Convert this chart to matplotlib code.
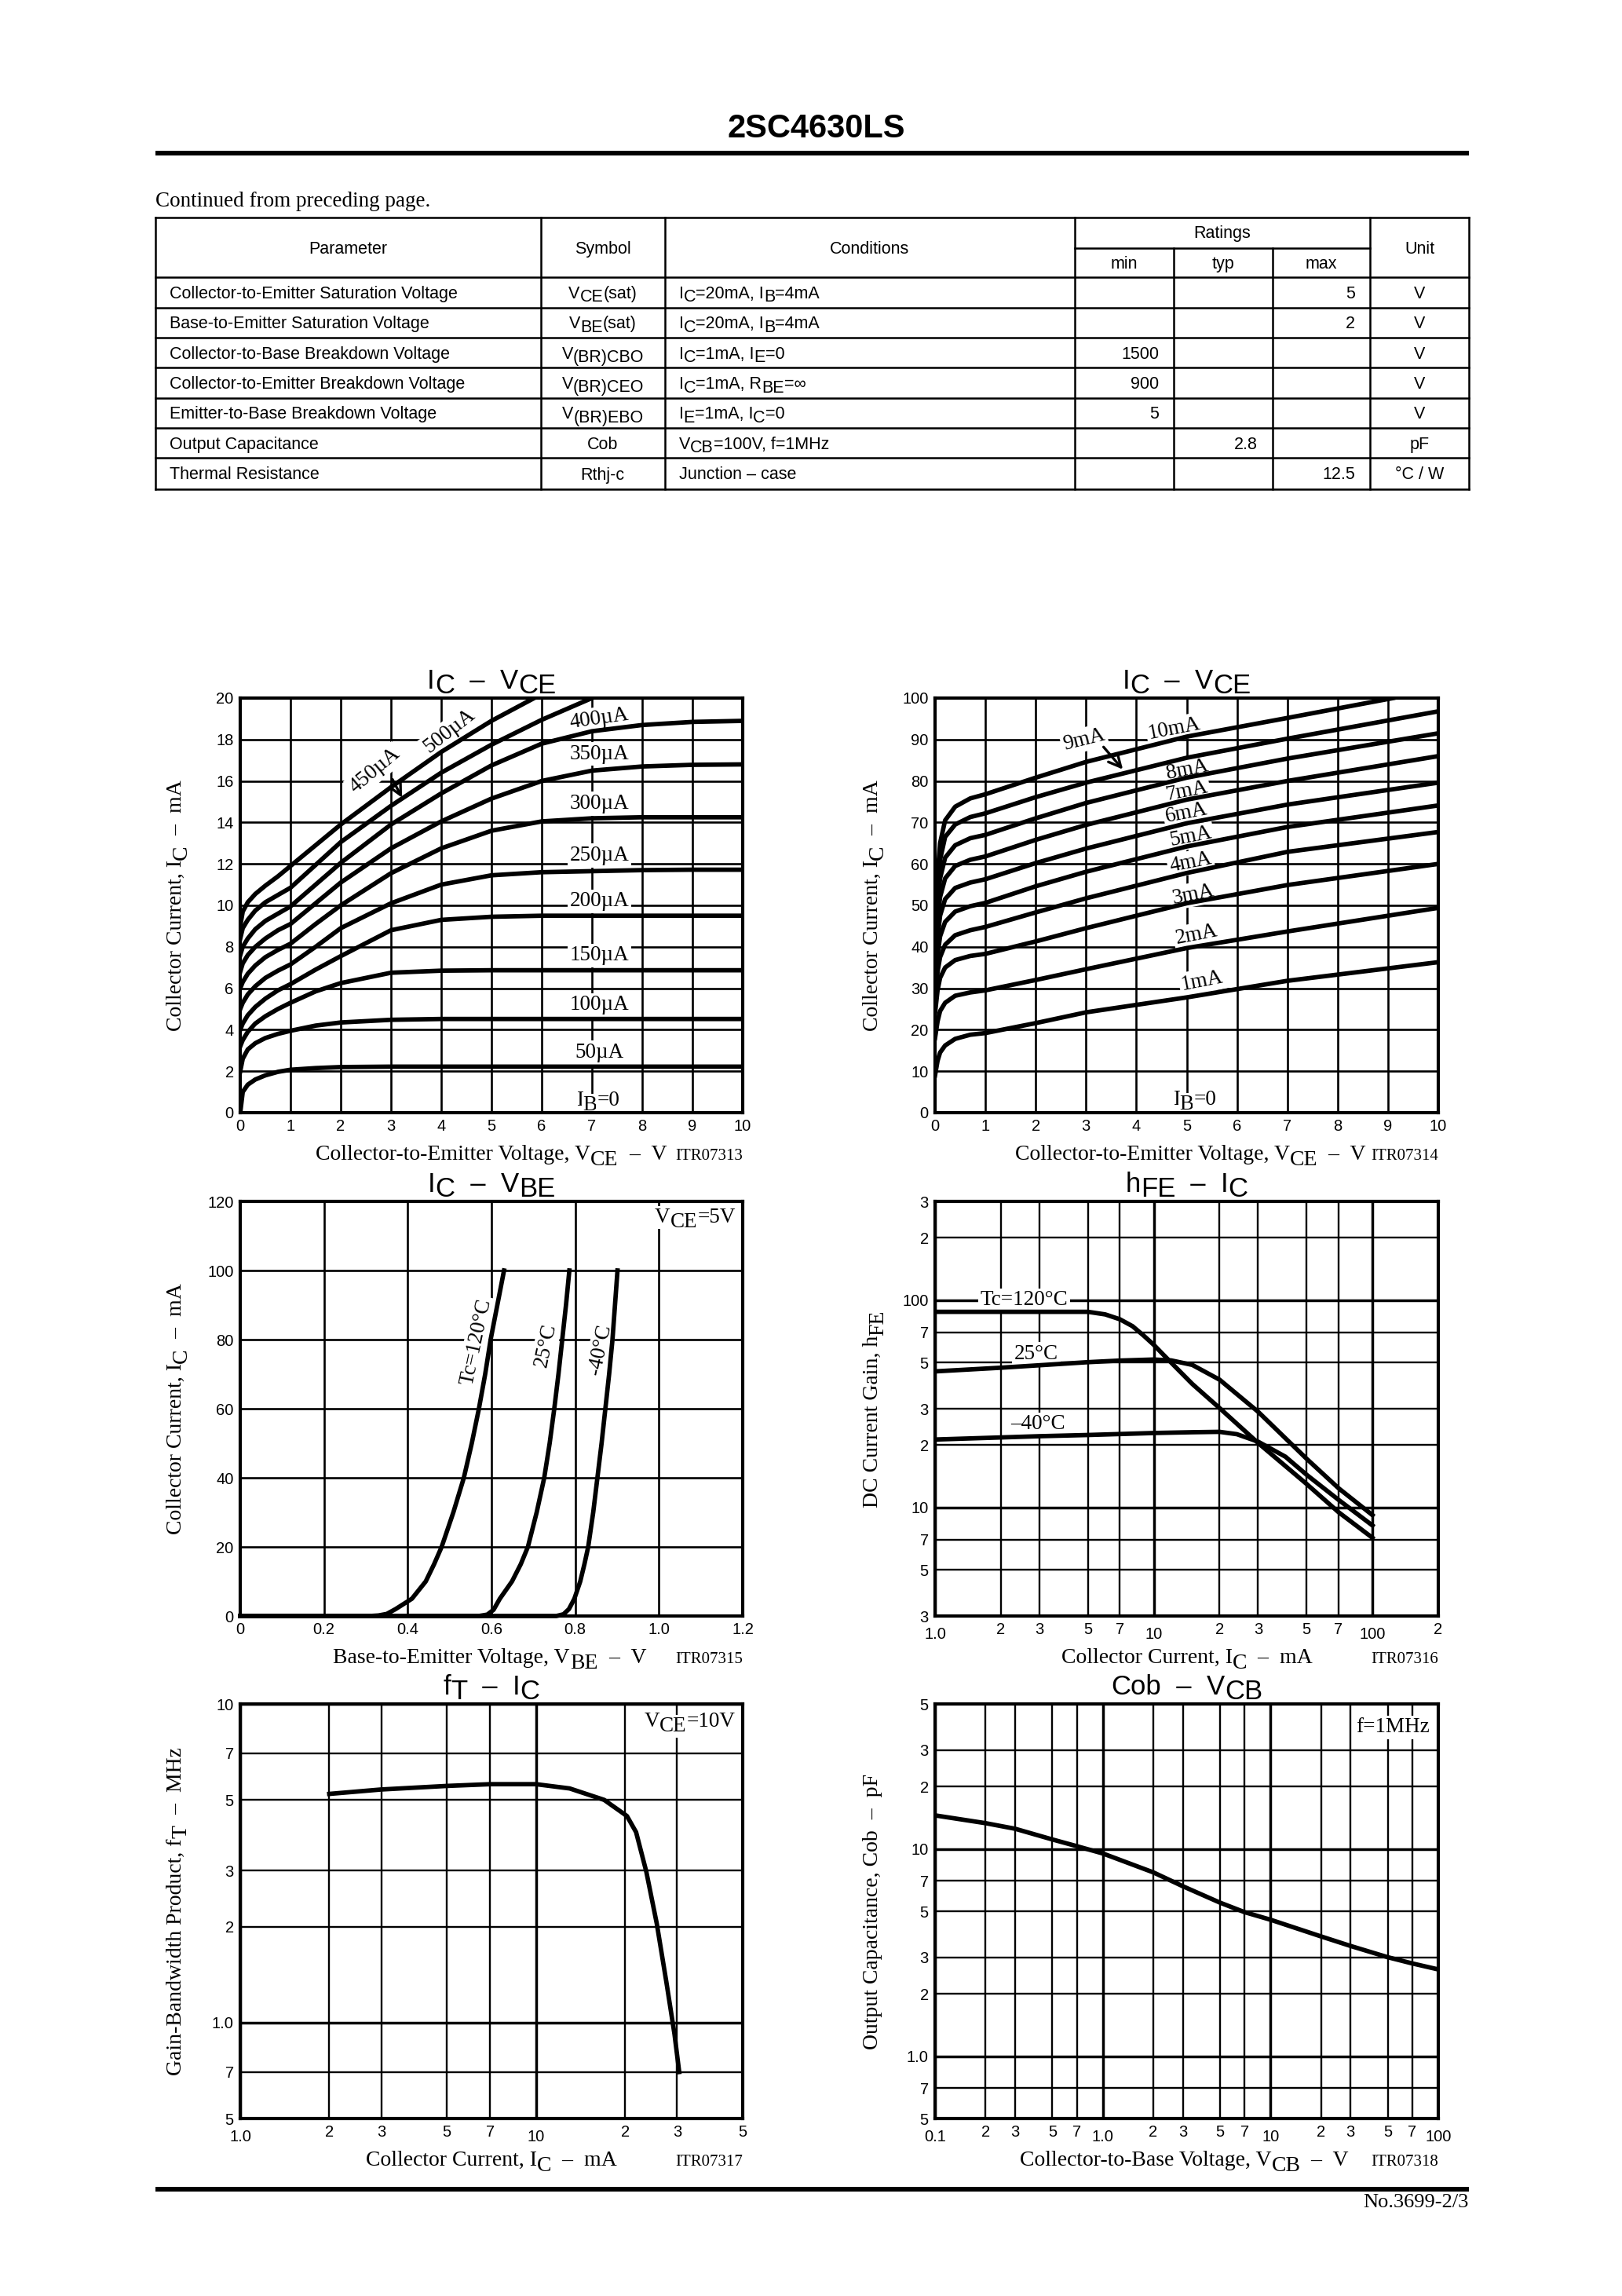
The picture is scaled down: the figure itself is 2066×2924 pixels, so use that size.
import numpy as np
import matplotlib
matplotlib.use("Agg")
import matplotlib.pyplot as plt
import matplotlib.transforms as mtransforms
from matplotlib.ticker import FixedLocator, FixedFormatter

W, H = 2066, 2924
SANS = ["Liberation Sans", "DejaVu Sans"]
SERIF = ["Liberation Serif", "DejaVu Serif"]
plt.rcParams["font.family"] = SANS

# ---------------- table values ----------------
param_names = [
    "Collector-to-Emitter Saturation Voltage",
    "Base-to-Emitter Saturation Voltage",
    "Collector-to-Base Breakdown Voltage",
    "Collector-to-Emitter Breakdown Voltage",
    "Emitter-to-Base Breakdown Voltage",
    "Output Capacitance",
    "Thermal Resistance",
]
# pieces: (text, 1 = lowered subscript)
param_symbols = [
    [("V", 0), ("CE", 1), ("(sat)", 0)],
    [("V", 0), ("BE", 1), ("(sat)", 0)],
    [("V", 0), ("(BR)CBO", 1)],
    [("V", 0), ("(BR)CEO", 1)],
    [("V", 0), ("(BR)EBO", 1)],
    [("Cob", 0)],
    [("Rthj-c", 0)],
]
param_conditions = [
    [("I", 0), ("C", 1), ("=20mA, I", 0), ("B", 1), ("=4mA", 0)],
    [("I", 0), ("C", 1), ("=20mA, I", 0), ("B", 1), ("=4mA", 0)],
    [("I", 0), ("C", 1), ("=1mA, I", 0), ("E", 1), ("=0", 0)],
    [("I", 0), ("C", 1), ("=1mA, R", 0), ("BE", 1), ("=\u221e", 0)],
    [("I", 0), ("E", 1), ("=1mA, I", 0), ("C", 1), ("=0", 0)],
    [("V", 0), ("CB", 1), ("=100V, f=1MHz", 0)],
    [("Junction \u2013 case", 0)],
]
rating_min = ["", "", "1500", "900", "5", "", ""]
rating_typ = ["", "", "", "", "", "2.8", ""]
rating_max = ["5", "2", "", "", "", "", "12.5"]
param_units = ["V", "V", "V", "V", "V", "pF", "\u00b0C / W"]

# ---------------- IC - VCE (small base current) ----------------
vce_a = [0, 0.05, 0.15, 0.3, 0.5, 0.75, 1, 1.5, 2, 3, 4, 5, 6, 7, 8, 9, 10]
ic_50ua = [0.0, 1.0, 1.35, 1.6, 1.8, 1.97, 2.07, 2.15, 2.2, 2.22, 2.22, 2.22, 2.22, 2.22, 2.22, 2.22, 2.22]
ic_100ua = [2.0, 2.6, 3.05, 3.35, 3.6, 3.8, 3.95, 4.2, 4.35, 4.48, 4.52, 4.52, 4.52, 4.52, 4.52, 4.52, 4.52]
ic_150ua = [3.2, 3.5, 3.9, 4.3, 4.65, 5.0, 5.3, 5.85, 6.25, 6.75, 6.85, 6.87, 6.87, 6.87, 6.87, 6.87, 6.87]
ic_200ua = [4.0, 4.3, 4.7, 5.1, 5.5, 5.9, 6.2, 6.9, 7.55, 8.8, 9.3, 9.45, 9.5, 9.5, 9.5, 9.5, 9.5]
ic_250ua = [5.0, 5.3, 5.7, 6.1, 6.5, 6.85, 7.15, 8.0, 8.9, 10.1, 11.0, 11.45, 11.6, 11.65, 11.7, 11.72, 11.72]
ic_300ua = [6.0, 6.3, 6.7, 7.1, 7.5, 7.85, 8.15, 9.1, 10.0, 11.55, 12.75, 13.6, 14.05, 14.2, 14.25, 14.25, 14.25]
ic_350ua = [6.8, 7.2, 7.6, 8.0, 8.4, 8.8, 9.1, 10.1, 11.1, 12.75, 14.05, 15.15, 16.0, 16.5, 16.7, 16.78, 16.8]
ic_400ua = [7.6, 8.0, 8.4, 8.85, 9.25, 9.6, 9.95, 11.0, 12.05, 13.9, 15.4, 16.75, 17.8, 18.4, 18.7, 18.85, 18.9]
vce_450 = [0, 0.05, 0.15, 0.3, 0.5, 0.75, 1, 1.5, 2, 3, 4, 5, 6, 7]
ic_450ua = [8.4, 8.9, 9.3, 9.75, 10.15, 10.5, 10.85, 11.95, 13.05, 14.8, 16.4, 17.75, 18.95, 20.0]
vce_500 = [0, 0.05, 0.15, 0.3, 0.5, 0.75, 1, 1.5, 2, 3, 4, 5, 5.85]
ic_500ua = [9.0, 9.7, 10.15, 10.55, 10.95, 11.4, 11.9, 12.9, 13.9, 15.7, 17.4, 18.9, 20.0]
lab_a_text = ["50\u00b5A", "100\u00b5A", "150\u00b5A", "200\u00b5A", "250\u00b5A", "300\u00b5A", "350\u00b5A", "400\u00b5A"]
lab_a_y = [2.89, 5.19, 7.58, 10.2, 12.4, 14.9, 17.3, 19.0]

# ---------------- IC - VCE (large base current) ----------------
vce_b = [0, 0.05, 0.1, 0.2, 0.4, 0.7, 1, 2, 3, 5, 7, 10]
ic_1ma = [9.0, 12.5, 14.5, 16.2, 17.8, 18.8, 19.2, 21.6, 24.2, 27.8, 31.8, 36.3]
ic_2ma = [18.0, 22.0, 24.5, 26.5, 28.2, 29.0, 29.5, 32.0, 34.6, 39.7, 43.7, 49.4]
ic_3ma = [24.0, 29.5, 32.5, 35.0, 36.8, 37.8, 38.3, 41.3, 44.5, 50.5, 54.9, 60.0]
ic_4ma = [27.0, 34.0, 37.5, 40.5, 42.8, 44.0, 44.8, 48.3, 51.7, 57.8, 62.9, 67.7]
ic_5ma = [30.0, 38.0, 42.5, 46.0, 48.5, 49.8, 50.6, 54.6, 58.1, 64.2, 68.9, 74.1]
ic_6ma = [33.0, 42.0, 47.5, 51.5, 54.2, 55.5, 56.3, 60.2, 63.7, 69.8, 74.3, 79.6]
ic_7ma = [36.0, 46.0, 52.0, 56.5, 59.5, 61.0, 61.8, 65.8, 69.4, 75.5, 80.0, 86.0]
ic_8ma = [39.0, 50.0, 56.5, 61.5, 64.5, 66.2, 67.0, 71.0, 74.7, 80.8, 85.4, 91.5]
ic_9ma = [42.0, 54.0, 61.0, 66.5, 69.5, 71.3, 72.2, 76.1, 79.6, 85.6, 90.2, 96.8]
vce_10ma = [0, 0.05, 0.1, 0.2, 0.4, 0.7, 1, 2, 3, 5, 7, 9.1]
ic_10ma = [45.0, 57.0, 65.0, 70.5, 73.8, 75.8, 76.8, 80.8, 84.6, 90.7, 95.2, 100.0]
lab_b_text = ["1mA", "2mA", "3mA", "4mA", "5mA", "6mA", "7mA", "8mA"]
lab_b_x = [5.31, 5.2, 5.13, 5.08, 5.08, 5.0, 5.0, 5.02]
lab_b_y = [31.8, 42.9, 52.6, 60.3, 66.5, 72.2, 77.6, 82.6]

# ---------------- IC - VBE ----------------
vbe_120 = [0, 0.31, 0.33, 0.35, 0.371, 0.41, 0.443, 0.463, 0.481, 0.509, 0.534, 0.553, 0.57, 0.585, 0.598, 0.614, 0.63]
ic_120 = [0, 0, 0.15, 0.6, 2, 5, 10, 15, 20, 30, 40, 50, 60, 70, 80, 90, 100]
vbe_25 = [0, 0.57, 0.59, 0.605, 0.62, 0.649, 0.67, 0.687, 0.708, 0.726, 0.739, 0.75, 0.76, 0.769, 0.778, 0.786]
ic_25 = [0, 0, 0.4, 1.8, 5, 10, 15, 20, 30, 40, 50, 60, 70, 80, 90, 100]
vbe_m40 = [0, 0.755, 0.772, 0.785, 0.798, 0.812, 0.822, 0.831, 0.843, 0.853, 0.863, 0.872, 0.881, 0.889, 0.895, 0.901]
ic_m40 = [0, 0, 0.5, 2.0, 5, 10, 15, 20, 30, 40, 50, 60, 70, 80, 90, 100]

# ---------------- hFE - IC ----------------
hfe_ic_120 = [1, 2, 3, 5, 6, 7, 8, 9, 10, 11, 13, 15, 20, 30, 50, 70, 100]
hfe_120 = [88.0, 88.0, 88.0, 88.0, 85.5, 81.0, 75.0, 67.5, 61.0, 55.0, 46.0, 39.5, 30.2, 20.5, 13.0, 9.5, 7.15]
hfe_ic_25 = [1, 2, 3, 5, 7, 10, 12, 15, 20, 30, 50, 70, 100]
hfe_25 = [45.4, 47.3, 48.6, 50.3, 51.2, 51.8, 51.3, 48.8, 41.4, 29.0, 17.2, 12.4, 9.2]
hfe_ic_m40 = [1, 2, 3, 5, 10, 15, 20, 24, 30, 40, 50, 70, 100]
hfe_m40 = [21.3, 21.8, 22.1, 22.4, 22.9, 23.1, 23.2, 22.6, 20.8, 17.6, 14.4, 10.9, 8.2]

# ---------------- fT - IC ----------------
ft_ic = [2, 3, 5, 7, 10, 13, 17, 20.3, 21.8, 23.6, 25.6, 27.6, 29.4, 30.5]
ft_mhz = [5.22, 5.39, 5.53, 5.6, 5.6, 5.43, 5.0, 4.45, 3.96, 2.98, 2.05, 1.34, 0.92, 0.70]

# ---------------- Cob - VCB ----------------
cob_vcb = [0.1, 0.2, 0.3, 0.5, 0.7, 1.0, 2, 3, 5, 7, 10, 20, 30, 50, 70, 100]
cob_pf = [14.5, 13.3, 12.5, 11.1, 10.3, 9.5, 7.7, 6.6, 5.5, 4.95, 4.55, 3.78, 3.4, 3.0, 2.8, 2.62]

# ---------------- figure ----------------
fig = plt.figure(figsize=(W / 100, H / 100), dpi=100)
fig.patch.set_facecolor("white")
page = fig.add_axes([0, 0, 1, 1])
page.set_xlim(0, W)
page.set_ylim(H, 0)
page.axis("off")
RENDER = fig.canvas.get_renderer()
PIX = mtransforms.IdentityTransform()


def text_adv(s, size, family, weight):
    a = fig.text(0, 0, "I" + s + "I", fontsize=size, family=family, weight=weight)
    b = fig.text(0, 0, "II", fontsize=size, family=family, weight=weight)
    w = a.get_window_extent(RENDER).width - b.get_window_extent(RENDER).width
    a.remove()
    b.remove()
    return w


def rich(host, base, x, y, parts, size, family=SERIF, rot=0, ha="left",
         weight="normal", zorder=5, bg=False):
    # parts: (text, drop in pixels) -- lowered pieces keep the same size
    widths = [text_adv(s, size, family, weight) for s, _ in parts]
    pos = {"left": 0.0, "center": -sum(widths) / 2, "right": -sum(widths)}[ha]
    c, sn = np.cos(np.radians(rot)), np.sin(np.radians(rot))
    for (s, drop), w in zip(parts, widths):
        tr = mtransforms.offset_copy(base, fig=fig, x=pos * c + drop * sn,
                                     y=pos * sn - drop * c, units="dots")
        extra = {}
        if bg:
            extra["bbox"] = dict(boxstyle="square,pad=0.08", fc="white", ec="none")
        host.text(x, y, s, transform=tr, fontsize=size, family=family, weight=weight,
                  rotation=rot, rotation_mode="anchor", ha="left", va="baseline",
                  zorder=zorder, **extra)
        pos += w


def prich(X, Y, parts, size, **kw):
    rich(page, PIX, X, H - Y, parts, size, **kw)


# header
page.text(1040, 175, "2SC4630LS", ha="center", va="baseline", fontsize=30,
          weight="bold", family=SANS)
page.plot([198, 1871], [194.7, 194.7], color="k", lw=4.3, solid_capstyle="butt")
page.text(198, 263, "Continued from preceding page.", ha="left", va="baseline",
          fontsize=19.5, family=SERIF)

# table grid
tx = [198, 689, 846.6, 1369, 1495, 1621, 1745, 1871]
ty = [276.7, 315.7, 353.3, 391.7, 430.0, 468.3, 506.7, 545.0, 583.3, 622.7]
TLW = 1.8
for yy in [ty[0]] + ty[2:]:
    page.plot([tx[0], tx[-1]], [yy, yy], color="k", lw=TLW, solid_capstyle="projecting")
page.plot([tx[3], tx[6]], [ty[1], ty[1]], color="k", lw=TLW)
for i, xx in enumerate(tx):
    top = ty[1] if i in (4, 5) else ty[0]
    page.plot([xx, xx], [top, ty[-1]], color="k", lw=TLW, solid_capstyle="projecting")

TFS = 15.5
hb = 322.7
page.text((tx[0] + tx[1]) / 2, hb, "Parameter", ha="center", va="baseline", fontsize=TFS)
page.text((tx[1] + tx[2]) / 2, hb, "Symbol", ha="center", va="baseline", fontsize=TFS)
page.text((tx[2] + tx[3]) / 2, hb, "Conditions", ha="center", va="baseline", fontsize=TFS)
page.text((tx[3] + tx[6]) / 2, 303, "Ratings", ha="center", va="baseline", fontsize=TFS)
for j, name in enumerate(["min", "typ", "max"]):
    page.text((tx[3 + j] + tx[4 + j]) / 2, 341.7, name, ha="center", va="baseline", fontsize=TFS)
page.text((tx[6] + tx[7]) / 2, hb, "Unit", ha="center", va="baseline", fontsize=TFS)

for i in range(len(param_names)):
    base_y = (ty[i + 2] + ty[i + 3]) / 2 + 7.5
    page.text(tx[0] + 18, base_y, param_names[i], ha="left", va="baseline", fontsize=TFS)
    prich((tx[1] + tx[2]) / 2, base_y, [(s, 4.5 * d) for s, d in param_symbols[i]],
          TFS, family=SANS, ha="center")
    prich(tx[2] + 18, base_y, [(s, 4.5 * d) for s, d in param_conditions[i]],
          TFS, family=SANS, ha="left")
    for col, vals in ((4, rating_min), (5, rating_typ), (6, rating_max)):
        if vals[i]:
            page.text(tx[col] - 19, base_y, vals[i], ha="right", va="baseline", fontsize=TFS)
    page.text((tx[6] + tx[7]) / 2, base_y, param_units[i], ha="center", va="baseline", fontsize=TFS)

# footer
page.plot([198, 1871], [2788, 2788], color="k", lw=4.3, solid_capstyle="butt")
page.text(1871, 2811, "No.3699-2/3", ha="right", va="baseline", fontsize=19, family=SERIF)

# ---------------- chart helpers ----------------
CLW = 4.1
GLW = 1.9
TITLE_FS = 25
LABEL_FS = 20
INNER_FS = 19.5
TICK_FS = 14.5
BOX = dict(boxstyle="square,pad=0.1", fc="white", ec="none")


def axes_box(l, t, r, b):
    ax = fig.add_axes([l / W, 1 - b / H, (r - l) / W, (b - t) / H])
    ax.set_facecolor("white")
    for sp in ax.spines.values():
        sp.set_linewidth(3.0)
        sp.set_zorder(6)
    ax.set_axisbelow(True)
    ax.tick_params(which="both", length=0, labelsize=TICK_FS, pad=6)
    return ax


def frame_texts(l, t, r, b, title, xlabel, xlabel_right, itr, ylabel, ylabel_x):
    prich((l + r) / 2, t - 12, title, TITLE_FS, family=SANS, ha="center")
    prich(xlabel_right, b + 60, xlabel, LABEL_FS, family=SERIF, ha="right")
    page.text(r, b + 60, itr, ha="right", va="baseline", fontsize=15, family=SERIF)
    prich(ylabel_x, (t + b) / 2, ylabel, LABEL_FS, family=SERIF, rot=90, ha="center")


def lin_grid(ax, xt, yt):
    ax.set_xticks(xt, [f"{v:g}" for v in xt])
    ax.set_yticks(yt, [f"{v:g}" for v in yt])
    ax.grid(True, color="k", lw=GLW)


def log_grid(ax, xmaj, xmaj_lab, xmin, xmin_lab, ymaj, ymaj_lab, ymin, ymin_lab):
    ax.set_xscale("log")
    ax.set_yscale("log")
    ax.xaxis.set_major_locator(FixedLocator(xmaj))
    ax.xaxis.set_major_formatter(FixedFormatter(xmaj_lab))
    ax.xaxis.set_minor_locator(FixedLocator(xmin))
    ax.xaxis.set_minor_formatter(FixedFormatter(xmin_lab))
    ax.yaxis.set_major_locator(FixedLocator(ymaj))
    ax.yaxis.set_major_formatter(FixedFormatter(ymaj_lab))
    ax.yaxis.set_minor_locator(FixedLocator(ymin))
    ax.yaxis.set_minor_formatter(FixedFormatter(ymin_lab))
    ax.grid(True, which="major", color="k", lw=2.5)
    ax.grid(True, which="minor", color="k", lw=1.7)
    ax.tick_params(axis="x", which="major", pad=10)
    ax.tick_params(axis="x", which="minor", pad=6)
    ax.tick_params(which="both", labelsize=TICK_FS)


def ib0(ax, x, y):
    rich(ax, ax.transData, x, y, [("I", 0), ("B", 6), ("=0", 0)], INNER_FS,
         family=SERIF, ha="center", zorder=3, bg=True)


# ---------------- chart 1 ----------------
L1, T1, R1, B1 = 306, 889, 946, 1417
ax1 = axes_box(L1, T1, R1, B1)
ax1.set_xlim(0, 10)
ax1.set_ylim(0, 20)
lin_grid(ax1, list(range(0, 11)), list(range(0, 21, 2)))
for yv in (ic_50ua, ic_100ua, ic_150ua, ic_200ua, ic_250ua, ic_300ua, ic_350ua, ic_400ua):
    ax1.plot(vce_a, yv, color="k", lw=CLW, zorder=4, solid_joinstyle="round")
ax1.plot(vce_450, ic_450ua, color="k", lw=CLW, zorder=4, solid_joinstyle="round")
ax1.plot(vce_500, ic_500ua, color="k", lw=CLW, zorder=4, solid_joinstyle="round")
for txt, yv in zip(lab_a_text, lab_a_y):
    ax1.text(7.15, yv, txt, ha="center", va="center", fontsize=INNER_FS, family=SERIF,
             rotation=8 if txt.startswith("400") else 0, bbox=BOX, zorder=3)
ib0(ax1, 7.12, 0.35)
ax1.text(2.68, 16.5, "450\u00b5A", ha="center", va="center", fontsize=INNER_FS,
         family=SERIF, rotation=40, bbox=BOX, zorder=3)
ax1.text(4.16, 18.4, "500\u00b5A", ha="center", va="center", fontsize=INNER_FS,
         family=SERIF, rotation=38, bbox=BOX, zorder=3)
ax1.annotate("", xy=(3.24, 15.1), xytext=(3.01, 16.17),
             arrowprops=dict(arrowstyle="->", lw=2.4, color="k", mutation_scale=28), zorder=5)
frame_texts(L1, T1, R1, B1, [("I", 0), ("C", 6), ("  \u2013  ", 0), ("V", 0), ("CE", 6)],
            [("Collector-to-Emitter Voltage, V", 0), ("CE", 7), ("  \u2013  V", 0)], 849,
            "ITR07313", [("Collector Current, I", 0), ("C", 7), ("  \u2013  mA", 0)], 231)

# ---------------- chart 2 ----------------
L2, T2, R2, B2 = 1191, 889, 1832, 1417
ax2 = axes_box(L2, T2, R2, B2)
ax2.set_xlim(0, 10)
ax2.set_ylim(0, 100)
lin_grid(ax2, list(range(0, 11)), list(range(0, 101, 10)))
for yv in (ic_1ma, ic_2ma, ic_3ma, ic_4ma, ic_5ma, ic_6ma, ic_7ma, ic_8ma, ic_9ma):
    ax2.plot(vce_b, yv, color="k", lw=CLW, zorder=4, solid_joinstyle="round")
ax2.plot(vce_10ma, ic_10ma, color="k", lw=CLW, zorder=4, solid_joinstyle="round")
for txt, xv, yv in zip(lab_b_text, lab_b_x, lab_b_y):
    ax2.text(xv, yv, txt, ha="center", va="center", fontsize=INNER_FS, family=SERIF,
             rotation=11, bbox=BOX, zorder=3)
ax2.text(4.76, 92.6, "10mA", ha="center", va="center", fontsize=INNER_FS, family=SERIF,
         rotation=11, bbox=BOX, zorder=3)
ax2.text(2.96, 90.0, "9mA", ha="center", va="center", fontsize=INNER_FS, family=SERIF,
         rotation=14, bbox=BOX, zorder=3)
ax2.annotate("", xy=(3.76, 82.4), xytext=(3.32, 88.6),
             arrowprops=dict(arrowstyle="->", lw=2.4, color="k", mutation_scale=28), zorder=5)
ib0(ax2, 5.16, 1.8)
frame_texts(L2, T2, R2, B2, [("I", 0), ("C", 6), ("  \u2013  ", 0), ("V", 0), ("CE", 6)],
            [("Collector-to-Emitter Voltage, V", 0), ("CE", 7), ("  \u2013  V", 0)], 1740,
            "ITR07314", [("Collector Current, I", 0), ("C", 7), ("  \u2013  mA", 0)], 1118)

# ---------------- chart 3 ----------------
L3, T3, R3, B3 = 306, 1530, 946, 2058
ax3 = axes_box(L3, T3, R3, B3)
ax3.set_xlim(0, 1.2)
ax3.set_ylim(0, 120)
ax3.set_xticks([0, 0.2, 0.4, 0.6, 0.8, 1.0, 1.2], ["0", "0.2", "0.4", "0.6", "0.8", "1.0", "1.2"])
ax3.set_yticks(list(range(0, 121, 20)), [str(v) for v in range(0, 121, 20)])
ax3.grid(True, color="k", lw=GLW)
for xv, yv in ((vbe_120, ic_120), (vbe_25, ic_25), (vbe_m40, ic_m40)):
    ax3.plot(xv, yv, color="k", lw=CLW, zorder=4, clip_on=False, solid_joinstyle="round")
ax3.text(0.563, 79.4, "Tc=120\u00b0C", ha="center", va="center", fontsize=INNER_FS,
         family=SERIF, rotation=78, bbox=BOX, zorder=3)
ax3.text(0.73, 78.4, "25\u00b0C", ha="center", va="center", fontsize=INNER_FS,
         family=SERIF, rotation=78, bbox=BOX, zorder=3)
ax3.text(0.86, 77.0, "-40\u00b0C", ha="center", va="center", fontsize=INNER_FS,
         family=SERIF, rotation=78, bbox=BOX, zorder=3)
rich(ax3, ax3.transData, 1.183, 113.9, [("V", 0), ("CE", 6), ("=5V", 0)], INNER_FS,
     family=SERIF, ha="right", zorder=3, bg=True)
frame_texts(L3, T3, R3, B3, [("I", 0), ("C", 6), ("  \u2013  ", 0), ("V", 0), ("BE", 6)],
            [("Base-to-Emitter Voltage, V", 0), ("BE", 7), ("  \u2013  V", 0)], 823,
            "ITR07315", [("Collector Current, I", 0), ("C", 7), ("  \u2013  mA", 0)], 231)

# ---------------- chart 4 ----------------
L4, T4, R4, B4 = 1191, 1530, 1832, 2058
ax4 = axes_box(L4, T4, R4, B4)
log_grid(ax4, [1, 10, 100], ["1.0", "10", "100"],
         [2, 3, 5, 7, 20, 30, 50, 70, 200], ["2", "3", "5", "7", "2", "3", "5", "7", "2"],
         [10, 100], ["10", "100"],
         [3, 5, 7, 20, 30, 50, 70, 200, 300], ["3", "5", "7", "2", "3", "5", "7", "2", "3"])
ax4.set_xlim(1, 200)
ax4.set_ylim(3, 300)
ax4.plot(hfe_ic_120, hfe_120, color="k", lw=CLW, zorder=4, solid_joinstyle="round")
ax4.plot(hfe_ic_25, hfe_25, color="k", lw=CLW, zorder=4, solid_joinstyle="round")
ax4.plot(hfe_ic_m40, hfe_m40, color="k", lw=CLW, zorder=4, solid_joinstyle="round")
ax4.text(2.56, 100, "Tc=120\u00b0C", ha="center", va="center", fontsize=INNER_FS,
         family=SERIF, bbox=BOX, zorder=3)
ax4.text(2.9, 55, "25\u00b0C", ha="center", va="center", fontsize=INNER_FS,
         family=SERIF, bbox=BOX, zorder=3)
ax4.text(2.96, 25.2, "\u201340\u00b0C", ha="center", va="center", fontsize=INNER_FS,
         family=SERIF, bbox=BOX, zorder=3)
frame_texts(L4, T4, R4, B4, [("h", 0), ("FE", 6), ("  \u2013  ", 0), ("I", 0), ("C", 6)],
            [("Collector Current, I", 0), ("C", 7), ("  \u2013  mA", 0)], 1672,
            "ITR07316", [("DC Current Gain, h", 0), ("FE", 7)], 1118)

# ---------------- chart 5 ----------------
L5, T5, R5, B5 = 306, 2170, 946, 2698
ax5 = axes_box(L5, T5, R5, B5)
log_grid(ax5, [1, 10], ["1.0", "10"],
         [2, 3, 5, 7, 20, 30, 50], ["2", "3", "5", "7", "2", "3", "5"],
         [1, 10], ["1.0", "10"],
         [0.5, 0.7, 2, 3, 5, 7], ["5", "7", "2", "3", "5", "7"])
ax5.set_xlim(1, 50)
ax5.set_ylim(0.5, 10)
ax5.plot(ft_ic, ft_mhz, color="k", lw=CLW, zorder=4, solid_joinstyle="round")
rich(ax5, ax5.transData, 47.3, 8.48, [("V", 0), ("CE", 6), ("=10V", 0)], INNER_FS,
     family=SERIF, ha="right", zorder=3, bg=True)
frame_texts(L5, T5, R5, B5, [("f", 0), ("T", 6), ("  \u2013  ", 0), ("I", 0), ("C", 6)],
            [("Collector Current, I", 0), ("C", 7), ("  \u2013  mA", 0)], 786,
            "ITR07317", [("Gain-Bandwidth Product, f", 0), ("T", 7), ("  \u2013  MHz", 0)], 231)

# ---------------- chart 6 ----------------
L6, T6, R6, B6 = 1191, 2170, 1832, 2698
ax6 = axes_box(L6, T6, R6, B6)
log_grid(ax6, [0.1, 1, 10, 100], ["0.1", "1.0", "10", "100"],
         [0.2, 0.3, 0.5, 0.7, 2, 3, 5, 7, 20, 30, 50, 70],
         ["2", "3", "5", "7", "2", "3", "5", "7", "2", "3", "5", "7"],
         [1, 10], ["1.0", "10"],
         [0.5, 0.7, 2, 3, 5, 7, 20, 30, 50], ["5", "7", "2", "3", "5", "7", "2", "3", "5"])
ax6.set_xlim(0.1, 100)
ax6.set_ylim(0.5, 50)
ax6.plot(cob_vcb, cob_pf, color="k", lw=CLW, zorder=4, solid_joinstyle="round")
ax6.text(88.5, 38.5, "f=1MHz", ha="right", va="center", fontsize=INNER_FS,
         family=SERIF, bbox=BOX, zorder=3)
frame_texts(L6, T6, R6, B6, [("Cob", 0), ("  \u2013  ", 0), ("V", 0), ("CB", 6)],
            [("Collector-to-Base Voltage, V", 0), ("CB", 7), ("  \u2013  V", 0)], 1718,
            "ITR07318", [("Output Capacitance, Cob  \u2013  pF", 0)], 1118)

fig.savefig("out.png", dpi=100, facecolor="white")
